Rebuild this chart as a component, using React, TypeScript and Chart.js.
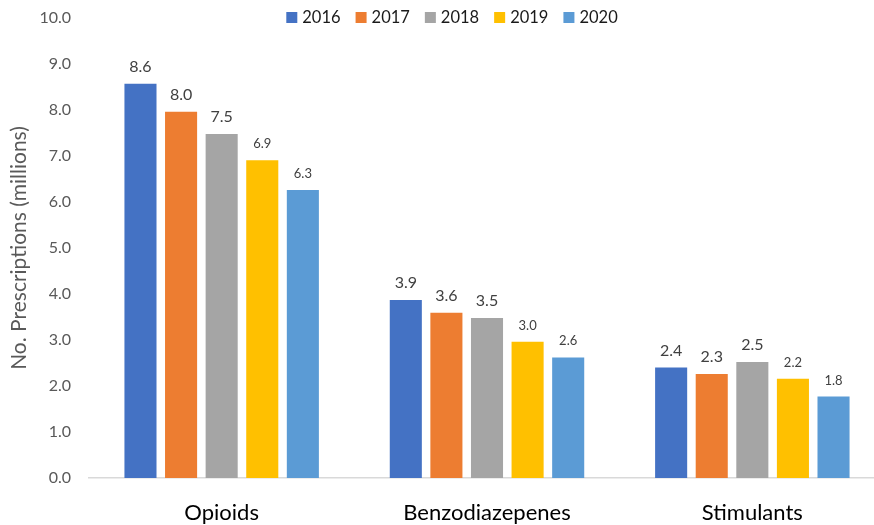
import React, { useEffect, useRef } from "react";
import { Chart, registerables } from "chart.js";

Chart.register(...registerables);

const categories = ["Opioids", "Benzodiazepenes", "Stimulants"];
const years = ["2016", "2017", "2018", "2019", "2020"];
const values2016 = [8.57, 3.87, 2.4];
const values2017 = [7.96, 3.59, 2.26];
const values2018 = [7.48, 3.48, 2.52];
const values2019 = [6.91, 2.96, 2.16];
const values2020 = [6.26, 2.62, 1.77];
const yTickMin = 0;
const yTickMax = 10;
const yTickStep = 1;
const yTitle = "No. Prescriptions (millions)";

const seriesValues = [values2016, values2017, values2018, values2019, values2020];
const seriesColors = ["#4472C4", "#ED7D31", "#A5A5A5", "#FFC000", "#5B9BD5"];
const labelFontSizes = [16, 16, 16, 13, 13];

const FONT = "Lato, 'Open Sans', sans-serif";

const dataLabelPlugin = {
  id: "dataLabels",
  afterDatasetsDraw(chart: any) {
    const ctx = chart.ctx;
    ctx.save();
    chart.data.datasets.forEach((ds: any, i: number) => {
      const meta = chart.getDatasetMeta(i);
      ctx.font = `${labelFontSizes[i]}px ${FONT}`;
      ctx.fillStyle = "#404040";
      ctx.textAlign = "center";
      ctx.textBaseline = "alphabetic";
      meta.data.forEach((bar: any, j: number) => {
        const v = ds.data[j];
        ctx.fillText(Number(v).toFixed(1), bar.x, bar.y - 12);
      });
    });
    ctx.restore();
  },
};

const legendPlugin = {
  id: "topLegend",
  afterDraw(chart: any) {
    const ctx = chart.ctx;
    ctx.save();
    ctx.font = `16.5px ${FONT}`;
    const box = 11;
    const gap = 5;
    const spacing = 15;
    const items = chart.data.datasets.map((ds: any) => ({
      label: ds.label,
      color: ds.backgroundColor,
      w: box + gap + ctx.measureText(ds.label).width,
    }));
    const total = items.reduce((s: number, it: any) => s + it.w, 0) + spacing * (items.length - 1);
    let x = 452 - total / 2;
    const cy = 17.5;
    items.forEach((it: any) => {
      ctx.fillStyle = it.color;
      ctx.fillRect(x, cy - box / 2, box, box);
      ctx.fillStyle = "#1a1a1a";
      ctx.textAlign = "left";
      ctx.textBaseline = "middle";
      ctx.fillText(it.label, x + box + gap, cy);
      x += it.w + spacing;
    });
    ctx.restore();
  },
};

export default function App() {
  const ref = useRef<HTMLCanvasElement | null>(null);

  useEffect(() => {
    if (!ref.current) return;
    const chart = new Chart(ref.current, {
      type: "bar",
      data: {
        labels: categories,
        datasets: years.map((y, i) => ({
          label: y,
          data: seriesValues[i],
          backgroundColor: seriesColors[i],
          borderWidth: 0,
          categoryPercentage: 0.765,
          barPercentage: 0.79,
        })),
      },
      options: {
        animation: false,
        responsive: false,
        maintainAspectRatio: false,
        layout: { padding: { top: 18, right: 0, bottom: 0, left: 0 } },
        plugins: {
          legend: { display: false },
          tooltip: { enabled: false },
        },
        scales: {
          x: {
            grid: { display: false, drawTicks: false },
            border: { display: true, color: "#d9d9d9", width: 1.5 },
            ticks: {
              color: "#000000",
              font: { family: FONT, size: 22 },
              padding: 22,
              maxRotation: 0,
              autoSkip: false,
            },
            afterFit(scale: any) {
              scale.height = 47;
              scale.paddingLeft = 0;
              scale.paddingRight = 0;
            },
          },
          y: {
            min: yTickMin,
            max: yTickMax,
            grid: { display: false, drawTicks: false },
            border: { display: false },
            ticks: {
              stepSize: yTickStep,
              color: "#595959",
              font: { family: FONT, size: 16 },
              padding: 18,
              callback: (v: any) => Number(v).toFixed(1),
            },
            title: {
              display: true,
              text: yTitle,
              color: "#595959",
              font: { family: FONT, size: 21 },
              padding: { top: 7, bottom: 0 },
            },
            afterFit(scale: any) {
              scale.width = 89;
              scale.paddingTop = 0;
              scale.paddingBottom = 0;
            },
          },
        },
      },
      plugins: [dataLabelPlugin, legendPlugin],
    });
    return () => chart.destroy();
  }, []);

  return (
    <div style={{ position: "fixed", left: 0, top: 0, width: 885, height: 525, background: "#ffffff" }}>
      <canvas ref={ref} width={885} height={525} style={{ display: "block" }} />
    </div>
  );
}
